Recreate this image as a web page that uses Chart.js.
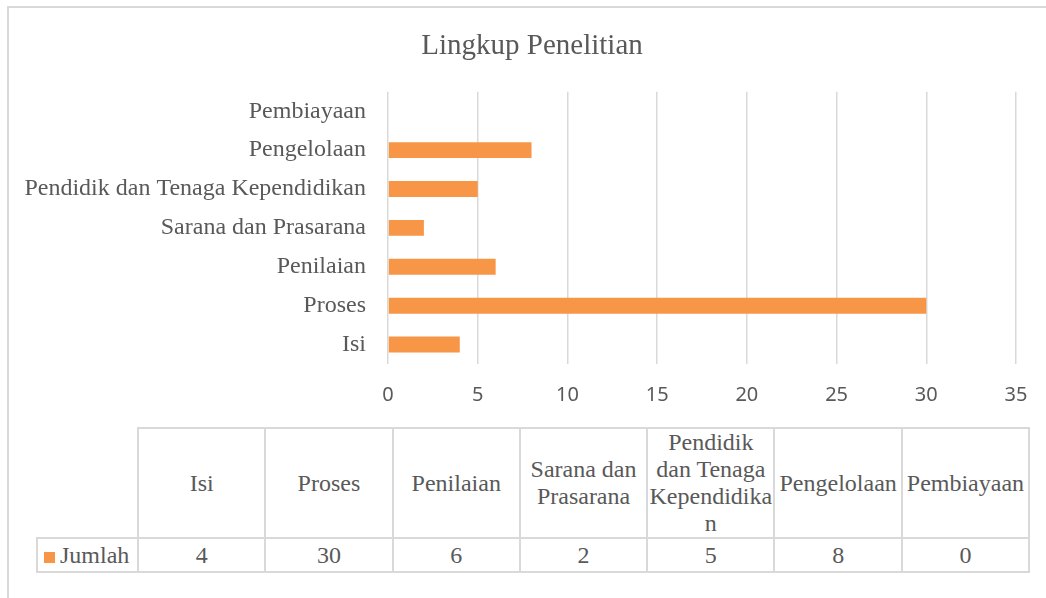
<!DOCTYPE html>
<html>
<head>
<meta charset="utf-8">
<script src="https://cdn.jsdelivr.net/npm/chart.js@4"></script>
<style>
  html, body { margin: 0; padding: 0; background: #fff; overflow: hidden; }
  #frame { position: absolute; left: 7px; top: 6px; width: 1100px; height: 700px;
           border-left: 2px solid #d9d9d9; border-top: 2px solid #d9d9d9; }
  #chartBox { position: absolute; left: 0; top: 0; width: 1064px; height: 420px; }
  #dataTable { position: absolute; left: 36px; top: 427px; border-collapse: collapse;
               table-layout: fixed; font-family: "Liberation Serif", serif; font-size: 24px;
               color: #595959; }
  #dataTable td { border: 2px solid #d9d9d9; text-align: center; vertical-align: middle;
                  padding: 0; line-height: 27px; overflow-wrap: anywhere; }
  #dataTable tr.head td { height: 105px; }
  #dataTable tr.vals td { height: 32px; }
  #dataTable td.blank { border-top: none; border-left: none; }
  .swatch { display: inline-block; width: 11px; height: 11px; background: #F79646; margin-right: 5px; }
</style>
</head>
<body>
<div id="frame"></div>
<div id="chartBox"><canvas id="barChart"></canvas></div>
<table id="dataTable"></table>
<script>
    // --- Data ---
    const categories = ['Isi', 'Proses', 'Penilaian', 'Sarana dan Prasarana',
        'Pendidik dan Tenaga Kependidikan', 'Pengelolaan', 'Pembiayaan'];
    const jumlah = [4, 30, 6, 2, 5, 8, 0];
    const seriesName = 'Jumlah';
    const xTicks = [0, 5, 10, 15, 20, 25, 30, 35];

    const BAR_COLOR = '#F79646';
    const TEXT_COLOR = '#595959';
    const GRID_COLOR = '#d9d9d9';

    // --- Chart ---
    const ctx = document.getElementById('barChart').getContext('2d');
    const chart = new Chart(ctx, {
        type: 'bar',
        data: {
            labels: categories,
            datasets: [{
                label: seriesName,
                data: jumlah,
                backgroundColor: BAR_COLOR,
                borderWidth: 0,
                categoryPercentage: 1,
                barPercentage: 0.41,
                yAxisID: 'y'
            }]
        },
        options: {
            indexAxis: 'y',
            responsive: true,
            maintainAspectRatio: false,
            animation: false,
            layout: { padding: 0 },
            scales: {
                x: {
                    min: 0,
                    max: 35,
                    afterBuildTicks: (scale) => {
                        scale.ticks = xTicks.map(v => ({ value: v }));
                    },
                    afterFit: (scale) => { scale.height = 56; },
                    ticks: {
                        color: TEXT_COLOR,
                        padding: 19,
                        font: { family: '"Noto Sans", sans-serif', size: 20 }
                    },
                    grid: { color: GRID_COLOR, lineWidth: 1.5, drawTicks: false },
                    border: { display: false }
                },
                y: {
                    reverse: true,
                    afterFit: (scale) => { scale.width = 388; },
                    ticks: {
                        color: TEXT_COLOR,
                        padding: 22,
                        font: { family: '"Liberation Serif", serif', size: 24 }
                    },
                    grid: { display: false, drawTicks: false },
                    border: { display: false }
                },
                // empty right-hand spacer so the title centres where the reference has it
                spacer: {
                    type: 'category',
                    position: 'right',
                    afterFit: (scale) => { scale.width = 48; },
                    ticks: { display: false },
                    grid: { display: false, drawTicks: false },
                    border: { display: false }
                }
            },
            plugins: {
                legend: { display: false },
                tooltip: { enabled: false },
                title: {
                    display: true,
                    text: 'Lingkup Penelitian',
                    color: TEXT_COLOR,
                    font: { family: '"Liberation Serif", serif', size: 29, weight: 'normal' },
                    padding: { top: 29, bottom: 28 }
                }
            }
        }
    });

    // --- Data table under the chart ---
    const table = document.getElementById('dataTable');
    const colgroup = document.createElement('colgroup');
    const firstCol = document.createElement('col');
    firstCol.style.width = '101px';
    colgroup.appendChild(firstCol);
    categories.forEach(() => {
        const c = document.createElement('col');
        c.style.width = '127.3px';
        colgroup.appendChild(c);
    });
    table.appendChild(colgroup);

    const headRow = document.createElement('tr');
    headRow.className = 'head';
    const blank = document.createElement('td');
    blank.className = 'blank';
    headRow.appendChild(blank);
    categories.forEach(cat => {
        const td = document.createElement('td');
        td.textContent = cat;
        headRow.appendChild(td);
    });
    table.appendChild(headRow);

    const valRow = document.createElement('tr');
    valRow.className = 'vals';
    const nameCell = document.createElement('td');
    nameCell.style.textAlign = 'left';
    nameCell.style.paddingLeft = '6px';
    nameCell.innerHTML = '<span class="swatch"></span>';
    nameCell.appendChild(document.createTextNode(seriesName));
    valRow.appendChild(nameCell);
    jumlah.forEach(v => {
        const td = document.createElement('td');
        td.textContent = v;
        valRow.appendChild(td);
    });
    table.appendChild(valRow);
</script>
</body>
</html>
